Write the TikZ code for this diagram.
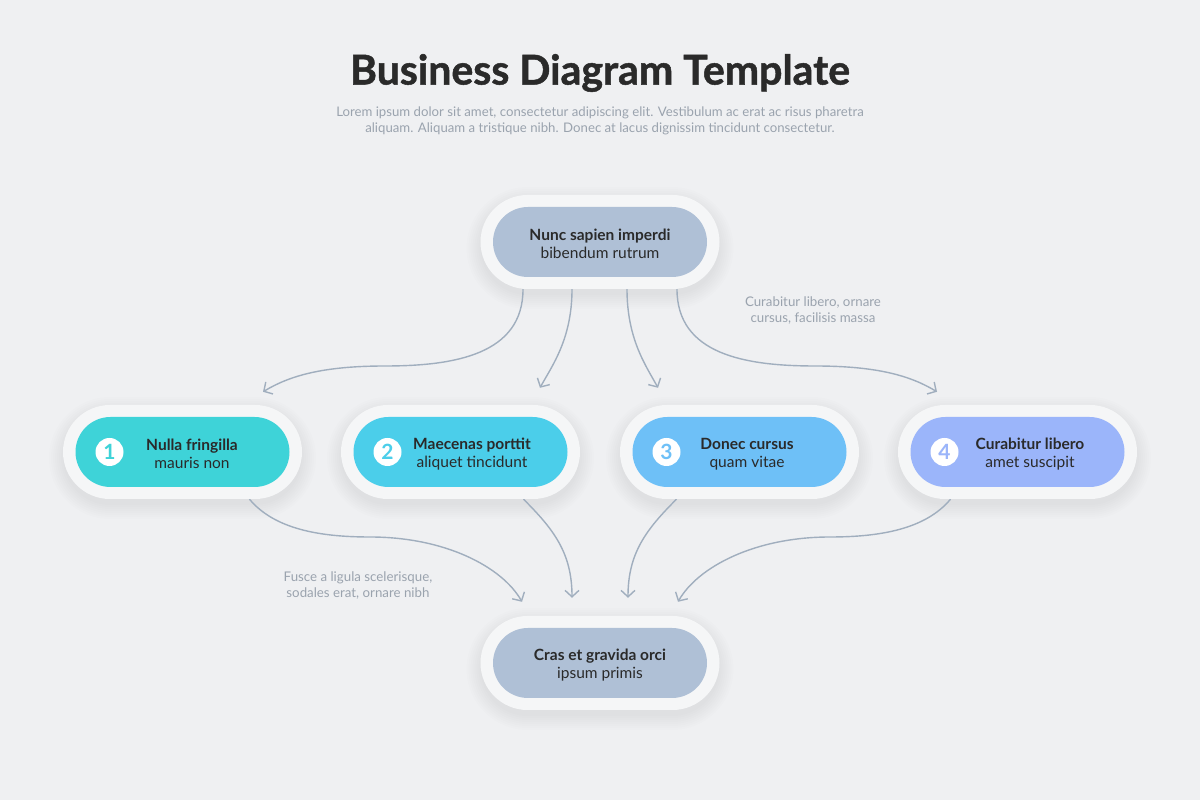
\documentclass[tikz,border=0pt]{standalone}
\usepackage{fontspec}
\setmainfont{Lato}
\newfontfamily\titlefont[BoldFeatures={FakeBold=1.2}]{Lato}
\usetikzlibrary{arrows.meta,calc}
\definecolor{bg}{HTML}{EFF0F2}
\definecolor{ring}{HTML}{F5F6F7}
\definecolor{grayn}{HTML}{AFC0D6}
\definecolor{c1}{HTML}{3ED3D8}
\definecolor{c2}{HTML}{4BCEEA}
\definecolor{c3}{HTML}{6EC0F7}
\definecolor{c4}{HTML}{9BB5FA}
\definecolor{linec}{HTML}{A0AEBE}
\definecolor{txtgray}{HTML}{9AA3AE}
\definecolor{dark}{HTML}{2A2A2A}
\pgfdeclarelayer{backl}
\pgfdeclarelayer{arrowl}
\pgfsetlayers{backl,arrowl,main}
\tikzset{
  ringbox/.style={rectangle, fill=ring, minimum width=239pt, minimum height=94pt, rounded corners=47pt, inner sep=0pt},
  pillbox/.style={rectangle, fill=#1, minimum width=214pt, minimum height=70pt, rounded corners=35pt, inner sep=0pt},
  pilltext/.style={align=center, font=\fontsize{15.5}{18}\selectfont, text=dark},
  numdot/.style={circle, fill=white, minimum size=28pt, inner sep=0pt, text=#1, font=\fontsize{21}{21}\selectfont\bfseries},
  link/.style={draw=linec, line width=1.4pt, -{Straight Barb[length=6.5pt,width=14pt]}},
  note/.style={align=center, font=\fontsize{13.3}{16}\selectfont, text=txtgray},
}
\newcommand{\pillshadow}[2]{%
  \foreach \k in {0,2,...,14}{%
    \pgfmathsetmacro{\rr}{47+\k}%
    \fill[black, opacity=0.009, rounded corners=\rr pt]
      ({#1-119.5-\k},{#2-47-\k-6}) rectangle ({#1+119.5+\k},{#2+47+\k-6});
  }%
}
\begin{document}
\begin{tikzpicture}[x=1pt,y=1pt]
\begin{pgfonlayer}{backl}
  \fill[bg] (0,0) rectangle (1200,800);
  \pillshadow{600}{558}
  \pillshadow{182.5}{348}
  \pillshadow{460.5}{348}
  \pillshadow{739.5}{348}
  \pillshadow{1017.5}{348}
  \pillshadow{600}{137}
\end{pgfonlayer}
\useasboundingbox (0,0) rectangle (1200,800);

% title
\node[font=\fontsize{41}{44}\selectfont\titlefont\bfseries, text=dark] (title) at (600,727) {Business Diagram Template};
\node[note, font=\fontsize{13.2}{16}\selectfont] (sub) at (600,679) {Lorem ipsum dolor sit amet, consectetur adipiscing elit. Vestibulum ac erat ac risus pharetra\\aliquam. Aliquam a tristique nibh. Donec at lacus dignissim tincidunt consectetur.};

% top node
\node[ringbox] (topR) at (600,558) {};
\node[pillbox=grayn] (top) at (600,558) {};
\node[pilltext] (topT) at (600,556) {\textbf{Nunc sapien imperdi}\\bibendum rutrum};

% row nodes
\node[ringbox] (r1R) at (182.5,348) {};
\node[pillbox=c1] (r1) at (182.5,348) {};
\node[numdot=c1] (n1) at (109.5,348) {1};
\node[pilltext] (t1) at (192,346) {\textbf{Nulla fringilla}\\mauris non};

\node[ringbox] (r2R) at (460.5,348) {};
\node[pillbox=c2] (r2) at (460.5,348) {};
\node[numdot=c2] (n2) at (387.5,348) {2};
\node[pilltext] (t2) at (472,346) {\textbf{Maecenas porttit}\\aliquet tincidunt};

\node[ringbox] (r3R) at (739.5,348) {};
\node[pillbox=c3] (r3) at (739.5,348) {};
\node[numdot=c3] (n3) at (666.5,348) {3};
\node[pilltext] (t3) at (747,346) {\textbf{Donec cursus}\\quam vitae};

\node[ringbox] (r4R) at (1017.5,348) {};
\node[pillbox=c4] (r4) at (1017.5,348) {};
\node[numdot=c4] (n4) at (944.5,348) {4};
\node[pilltext] (t4) at (1030,346) {\textbf{Curabitur libero}\\amet suscipit};

% bottom node
\node[ringbox] (botR) at (600,137) {};
\node[pillbox=grayn] (bot) at (600,137) {};
\node[pilltext] (botT) at (600,135) {\textbf{Cras et gravida orci}\\ipsum primis};

% notes
\node[note] (note1) at (813,489) {Curabitur libero, ornare\\cursus, facilisis massa};
\node[note] (note2) at (358,214) {Fusce a ligula scelerisque,\\sodales erat, ornare nibh};

% arrow end points
\coordinate (e1) at ([shift={(80.5,13)}]r1R.north);
\coordinate (e2) at ([shift={(79.5,17)}]r2R.north);
\coordinate (e3) at ([shift={(-81.5,17)}]r3R.north);
\coordinate (e4) at ([shift={(-80.5,13)}]r4R.north);
\coordinate (b1) at ([shift={(-78,14)}]botR.north);
\coordinate (b2) at ([shift={(-28,18)}]botR.north);
\coordinate (b3) at ([shift={(28,18)}]botR.north);
\coordinate (b4) at ([shift={(78,14)}]botR.north);

\begin{pgfonlayer}{arrowl}
  \draw[link] ([xshift=-77pt]topR.south) .. controls +(0,-65) and +(70,0) .. (385,434) .. controls +(-65,0) and +(25,15) .. (e1);
  \draw[link] ([xshift=-28pt]topR.south) .. controls +(0,-50) and +(12,22) .. (e2);
  \draw[link] ([xshift=27pt]topR.south) .. controls +(0,-50) and +(-12,22) .. (e3);
  \draw[link] ([xshift=77pt]topR.south) .. controls +(0,-65) and +(-70,0) .. (815,434) .. controls +(65,0) and +(-25,15) .. (e4);

  \draw[link] ([xshift=67pt]r1R.south) .. controls +(25,-30) and +(-50,0) .. (370,263) .. controls +(75,0) and +(-20,35) .. (b1);
  \draw[link] ([xshift=63pt]r2R.south) .. controls +(30,-30) and +(0,45) .. (b2);
  \draw[link] ([xshift=-63pt]r3R.south) .. controls +(-30,-30) and +(0,45) .. (b3);
  \draw[link] ([xshift=-67pt]r4R.south) .. controls +(-25,-30) and +(50,0) .. (830,263) .. controls +(-75,0) and +(20,35) .. (b4);
\end{pgfonlayer}
\end{tikzpicture}
\end{document}
